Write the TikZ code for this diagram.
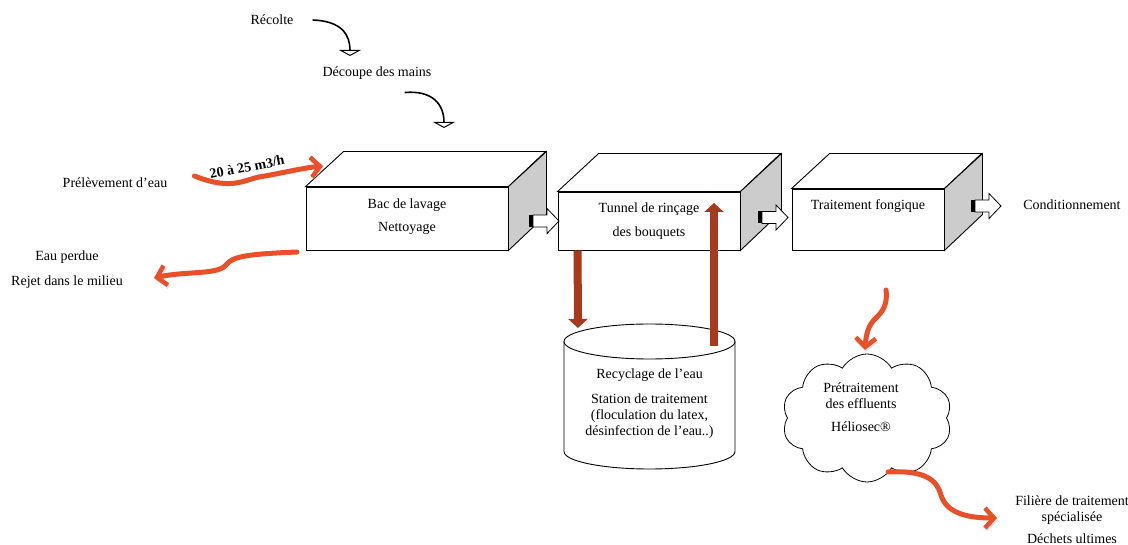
\documentclass[tikz,border=0pt]{standalone}
\usepackage{fontspec}
\setmainfont{Liberation Serif}
\usetikzlibrary{arrows.meta,shapes.symbols}
\definecolor{flowor}{RGB}{233,80,42}
\definecolor{recred}{RGB}{168,57,28}
\definecolor{sidegray}{RGB}{204,204,204}
\tikzset{
  txt/.style={inner sep=0pt, align=center, font=\fontsize{14}{16}\selectfont},
  boxface/.style={draw, line width=0.9pt, fill=white, inner sep=0pt},
  curv/.style={line width=1.6pt, -{Triangle[open,length=6pt,width=22pt,line width=1pt]}},
  flow/.style={draw=flowor, line width=5pt, line cap=round,
    -{Straight Barb[length=9pt,width=20pt,line width=4.5pt]},
    preaction={draw=black!30, opacity=0.35, transform canvas={shift={(1pt,-2pt)}}}},
  recyc/.style={draw=recred, line width=8pt, -{Triangle[length=9pt,width=19pt]}},
  blockarr/.pic={
    \fill[black] (0,-6) rectangle (4,6);
    \draw[fill=white, line width=0.8pt] (4,-6) -- (18,-6) -- (18,-12.5) -- (30,0) -- (18,12.5) -- (18,6) -- (4,6) -- cycle;
  }
}
\begin{document}
\begin{tikzpicture}[x=1pt,y=-1pt]
\useasboundingbox (0,0) rectangle (1128,545);

% top texts
\node[txt] (recolte) at (272,20) {Récolte};
\node[txt] (decoupe) at (377,73) {Découpe des mains};
\draw[curv] ([xshift=19pt]recolte.east) .. controls (342,21) and (350,35) .. (350,56);
\draw[curv] ([xshift=-27pt,yshift=-13pt]decoupe.south east) .. controls (432,90) and (444,104) .. (444,128);

% box 1
\node[boxface, minimum width=202pt, minimum height=63pt] (b1) at (407,218.5) {};
\draw[line width=0.9pt, fill=white] (b1.north west) -- ++(38,-35) -- ++(202,0) -- (b1.north east) -- cycle;
\draw[line width=0.9pt, fill=sidegray] (b1.north east) -- ++(38,-35) -- ++(0,63) -- (b1.south east) -- cycle;
\node[txt] (t1) at (407,216.5) {Bac de lavage\\[7pt]Nettoyage};

% box 2
\node[boxface, minimum width=182pt, minimum height=58pt] (b2) at (649,221) {};
\draw[line width=0.9pt, fill=white] (b2.north west) -- ++(41,-38) -- ++(182,0) -- (b2.north east) -- cycle;
\draw[line width=0.9pt, fill=sidegray] (b2.north east) -- ++(41,-38) -- ++(0,58) -- (b2.south east) -- cycle;
\node[txt] (t2) at (649,221) {Tunnel de rinçage\\[8pt]des bouquets};

% box 3
\node[boxface, minimum width=152pt, minimum height=61pt] (b3) at (868,219.5) {};
\draw[line width=0.9pt, fill=white] (b3.north west) -- ++(38,-35) -- ++(152,0) -- (b3.north east) -- cycle;
\draw[line width=0.9pt, fill=sidegray] (b3.north east) -- ++(38,-35) -- ++(0,61) -- (b3.south east) -- cycle;
\node[txt] (t3) at (868,206) {Traitement fongique};
\node[txt] (cond) at (1072,205) {Conditionnement};

% block arrows
\pic at (529,221) {blockarr};
\pic at (758,217.5) {blockarr};
\pic at (971,206) {blockarr};

% cylinder
\coordinate (cyltop) at (649.5,341.5);
\draw[line width=0.9pt, fill=white] (564,341.5) -- (564,451.5) arc[start angle=180, end angle=360, x radius=85.5pt, y radius=17.5pt] -- (735,341.5);
\draw[line width=0.9pt, fill=white] (cyltop) ellipse[x radius=85.5pt, y radius=17.5pt];
\node[txt] (cyl) at (649.5,404) {Recyclage de l’eau\\[9pt]Station de traitement\\(floculation du latex,\\désinfection de l’eau..)};

% recycling arrows
\draw[recyc] ([xshift=20pt]b2.south west) -- (578,328);
\draw[recyc] (714,346) -- (714,203);

% left texts and flows
\node[txt] (prel) at (115,183) {Prélèvement d’eau};
\node[txt, font=\fontsize{14}{16}\selectfont\bfseries, rotate=11] (debit) at (247,167) {20 à 25 m3/h};
\draw[flow] ([xshift=27pt,yshift=7pt]prel.east) .. controls (235,192) and (245,178) .. (265,176) .. controls (287,172) and (303,168) .. (323,166);
\node[txt] (perdue) at (67,269.5) {Eau perdue\\[9pt]Rejet dans le milieu};
\draw[flow] (297,252) .. controls (250,254) and (232,256) .. (226,265) .. controls (218,275) and (185,271) .. (154,278);

% cloud
\node[cloud, draw, line width=0.8pt, fill=white, cloud puffs=10, cloud puff arc=120, minimum width=170pt, minimum height=128pt, inner sep=0pt] (cl) at (867,418) {};
\node[txt] (clt) at (861,407.5) {Prétraitement\\des effluents\\[7pt]Héliosec®};
\draw[flow] (886,290) .. controls (888,305) and (882,312) .. (876,318) .. controls (868,325) and (866,335) .. (865,350);
\draw[flow] (888,472) .. controls (925,470) and (937,480) .. (941,495) .. controls (946,512) and (965,518) .. (997,518);
\node[txt] (fil) at (1072,519.5) {Filière de traitement\\spécialisée\\[6pt]Déchets ultimes};
\end{tikzpicture}
\end{document}
